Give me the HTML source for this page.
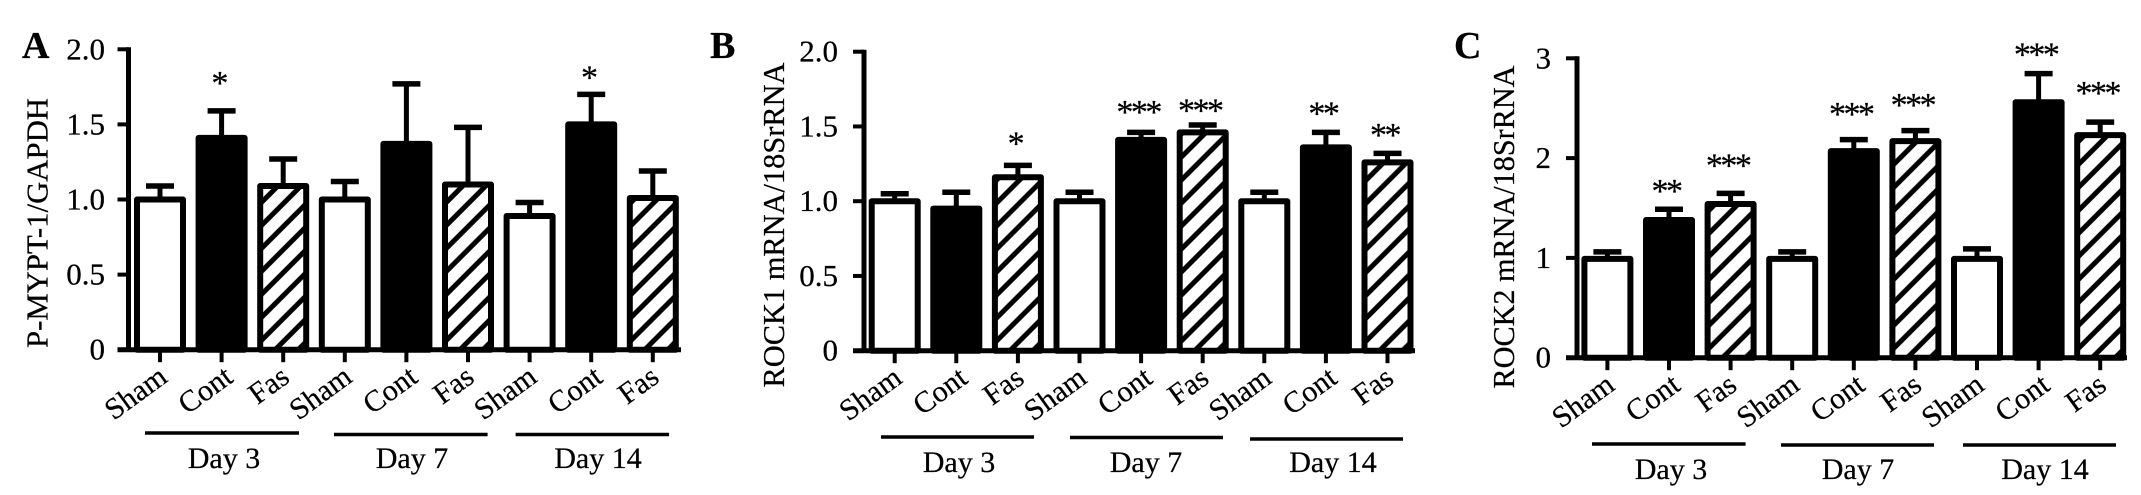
<!DOCTYPE html>
<html lang="en">
<head>
<meta charset="utf-8">
<title>P-MYPT-1, ROCK1 and ROCK2 bar charts</title>
<style>
html,body{margin:0;padding:0;background:#fff;}
body{width:2141px;height:495px;overflow:hidden;}
svg{display:block;}
text{font-family:"Liberation Serif",serif;fill:#000;stroke:#000;stroke-width:.25px;}
</style>
</head>
<body>
<svg id="figure" xmlns="http://www.w3.org/2000/svg" width="2141" height="495" viewBox="0 0 2141 495">
<defs id="defs"></defs>
</svg>
<script>
const categories = ['Sham','Cont','Fas','Sham','Cont','Fas','Sham','Cont','Fas'];
const dayLabels = ['Day 3','Day 7','Day 14'];
const panelLetters = ['A','B','C'];
const yTitles = ['P-MYPT-1/GAPDH','ROCK1 mRNA/18SrRNA','ROCK2 mRNA/18SrRNA'];

const tickValuesA = [0,0.5,1,1.5,2];
const tickLabelsA = ['0','0.5','1.0','1.5','2.0'];
const valuesA = [1.0,1.41,1.09,1.0,1.37,1.10,0.89,1.50,1.01];
const errorTopsA = [1.09,1.59,1.27,1.12,1.77,1.48,0.98,1.70,1.19];
const starsA = ['','*','','','','','','*',''];
const starLevelsA = [0,1.81,0,0,0,0,0,1.845,0];

const tickValuesB = [0,0.5,1,1.5,2];
const tickLabelsB = ['0','0.5','1.0','1.5','2.0'];
const valuesB = [1.0,0.95,1.16,1.0,1.41,1.46,1.0,1.36,1.26];
const errorTopsB = [1.05,1.06,1.24,1.06,1.46,1.51,1.06,1.46,1.32];
const starsB = ['','','*','','***','***','','**','**'];
const starLevelsB = [0,0,1.42,0,1.63,1.64,0,1.62,1.476];

const tickValuesC = [0,1,2,3];
const tickLabelsC = ['0','1','2','3'];
const valuesC = [0.99,1.38,1.54,0.99,2.07,2.17,0.99,2.56,2.23];
const errorTopsC = [1.06,1.487,1.647,1.06,2.185,2.275,1.09,2.847,2.36];
const starsC = ['','**','***','','***','***','','***','***'];
const starLevelsC = [0,1.72,1.975,0,2.49,2.58,0,3.09,2.70];

const layouts = [
  {id:'a',spineX:128.5,top:49.3,base:349.7,max:2,firstX:160,axisEnd:681,tickRight:105,titleX:47.5,titleY:223,titleLen:250,
   letterX:22,letterY:58,lineSpans:[[145,299,433],[334,487.6,434.5],[515.6,669,434.5]],dayX:[224,412,598],dayY:468},
  {id:'b',spineX:864,top:51.7,base:350.7,max:2,firstX:894.7,axisEnd:1415,tickRight:838,titleX:784,titleY:225,titleLen:325,
   letterX:710,letterY:58,lineSpans:[[881,1034,437],[1070,1223,437.5],[1250,1403,439]],dayX:[959,1146,1333],dayY:472},
  {id:'c',spineX:1577,top:58.3,base:357.7,max:3,firstX:1607.4,axisEnd:2127,tickRight:1551,titleX:1514,titleY:227,titleLen:323,
   letterX:1454,letterY:58,lineSpans:[[1592,1745.6,444],[1781,1934,445],[1963,2116,445]],dayX:[1671,1858,2045],dayY:479}
];
const panelData = [
  {ticks:tickValuesA,tickLabels:tickLabelsA,values:valuesA,tops:errorTopsA,stars:starsA,starLevels:starLevelsA},
  {ticks:tickValuesB,tickLabels:tickLabelsB,values:valuesB,tops:errorTopsB,stars:starsB,starLevels:starLevelsB},
  {ticks:tickValuesC,tickLabels:tickLabelsC,values:valuesC,tops:errorTopsC,stars:starsC,starLevels:starLevelsC}
];

const NS = 'http://www.w3.org/2000/svg';
const svg = document.getElementById('figure');
const defs = document.getElementById('defs');
const STEP = 61.6;
const BAR_W = 52;
const STROKE = 6;
const CAP_W = 28;
const HATCH_PITCH = 16.26;
const LABEL_NUDGE = {sham: 9, cont: 13, fas: 8};

function make(parent, tag, attrs, txt) {
  const node = document.createElementNS(NS, tag);
  for (const k in attrs) node.setAttribute(k, attrs[k]);
  if (txt !== undefined) node.textContent = txt;
  parent.appendChild(node);
  return node;
}

function hatchFor(id, left, base) {
  const pat = make(defs, 'pattern', {
    id: id, width: HATCH_PITCH, height: HATCH_PITCH, patternUnits: 'userSpaceOnUse',
    patternTransform: 'translate(' + left + ' ' + base + ') rotate(45)'
  });
  make(pat, 'rect', {width: HATCH_PITCH, height: HATCH_PITCH, fill: '#fff'});
  make(pat, 'rect', {x: 10.2, y: 0, width: 5, height: HATCH_PITCH, fill: '#000'});
  return 'url(#' + id + ')';
}

panelData.forEach(function (d, p) {
  const L = layouts[p];
  const y = function (v) { return L.base - (v / L.max) * (L.base - L.top); };
  const x = function (i) { return L.firstX + i * STEP; };

  const g = make(svg, 'g', {});
  
  

  const letter = make(g, 'text', {x: L.letterX, y: L.letterY, 'font-size': 38, 'font-weight': 'bold'}, panelLetters[p]);
  
  

  const title = make(g, 'text', {
    x: 0, y: 0, 'font-size': 31, 'text-anchor': 'middle',
    textLength: L.titleLen, lengthAdjust: 'spacingAndGlyphs',
    transform: 'translate(' + L.titleX + ' ' + L.titleY + ') rotate(-90)'
  }, yTitles[p]);
  
  

  d.values.forEach(function (v, i) {
    const kind = categories[i].toLowerCase();
    const cx = x(i);

    const stem = make(g, 'line', {x1: cx, x2: cx, y1: y(v), y2: y(d.tops[i]), stroke: '#000', 'stroke-width': 5});
    
    

    const cap = make(g, 'line', {x1: cx - CAP_W / 2, x2: cx + CAP_W / 2, y1: y(d.tops[i]), y2: y(d.tops[i]), stroke: '#000', 'stroke-width': 5.5});
    
    

    const left = cx - BAR_W / 2;
    const fill = kind === 'sham' ? '#fff' : kind === 'cont' ? '#000' : hatchFor('hatch-' + L.id + '-' + i, left, L.base);
    const bar = make(g, 'rect', {
      x: left + STROKE / 2, y: y(v),
      width: BAR_W - STROKE, height: Math.max(0, L.base - y(v)),
      fill: fill, stroke: '#000', 'stroke-width': STROKE, 'stroke-linejoin': 'round'
    });
    
    

    const tick = make(g, 'line', {x1: cx, x2: cx, y1: L.base, y2: L.base + 12.5, stroke: '#000', 'stroke-width': 4});
    
    

    const lbl = make(g, 'text', {
      x: 0, y: 0, 'font-size': 30, 'text-anchor': 'end',
      transform: 'translate(' + (cx + LABEL_NUDGE[kind]) + ' ' + (L.base + 31) + ') rotate(-36)'
    }, categories[i]);
    
    

    if (d.stars[i]) {
      const star = make(g, 'text', {
        x: cx - 3, y: y(d.starLevels[i]) + 16, 'font-size': 34, 'text-anchor': 'middle', 'letter-spacing': -2.5
      }, d.stars[i]);
      
      
    }
  });

  const spine = make(g, 'line', {x1: L.spineX, x2: L.spineX, y1: L.top - 2, y2: L.base, stroke: '#000', 'stroke-width': 5});
  
  

  const axis = make(g, 'line', {x1: L.spineX - 11, x2: L.axisEnd, y1: L.base, y2: L.base, stroke: '#000', 'stroke-width': 5});
  
  

  d.ticks.forEach(function (t, i) {
    const tk = make(g, 'line', {x1: L.spineX - 11, x2: L.spineX, y1: y(t), y2: y(t), stroke: '#000', 'stroke-width': 4});
    
    

    const tl = make(g, 'text', {x: L.tickRight, y: y(t) + 10, 'font-size': 31, 'text-anchor': 'end'}, d.tickLabels[i]);
    
    
  });

  dayLabels.forEach(function (day, i) {
    const span = L.lineSpans[i];
    const rule = make(g, 'line', {x1: span[0], x2: span[1], y1: span[2], y2: span[2], stroke: '#000', 'stroke-width': 3.5});
    
    

    const dl = make(g, 'text', {x: L.dayX[i], y: L.dayY, 'font-size': 30, 'text-anchor': 'middle'}, day);
    
    
  });
});
</script>
</body>
</html>
